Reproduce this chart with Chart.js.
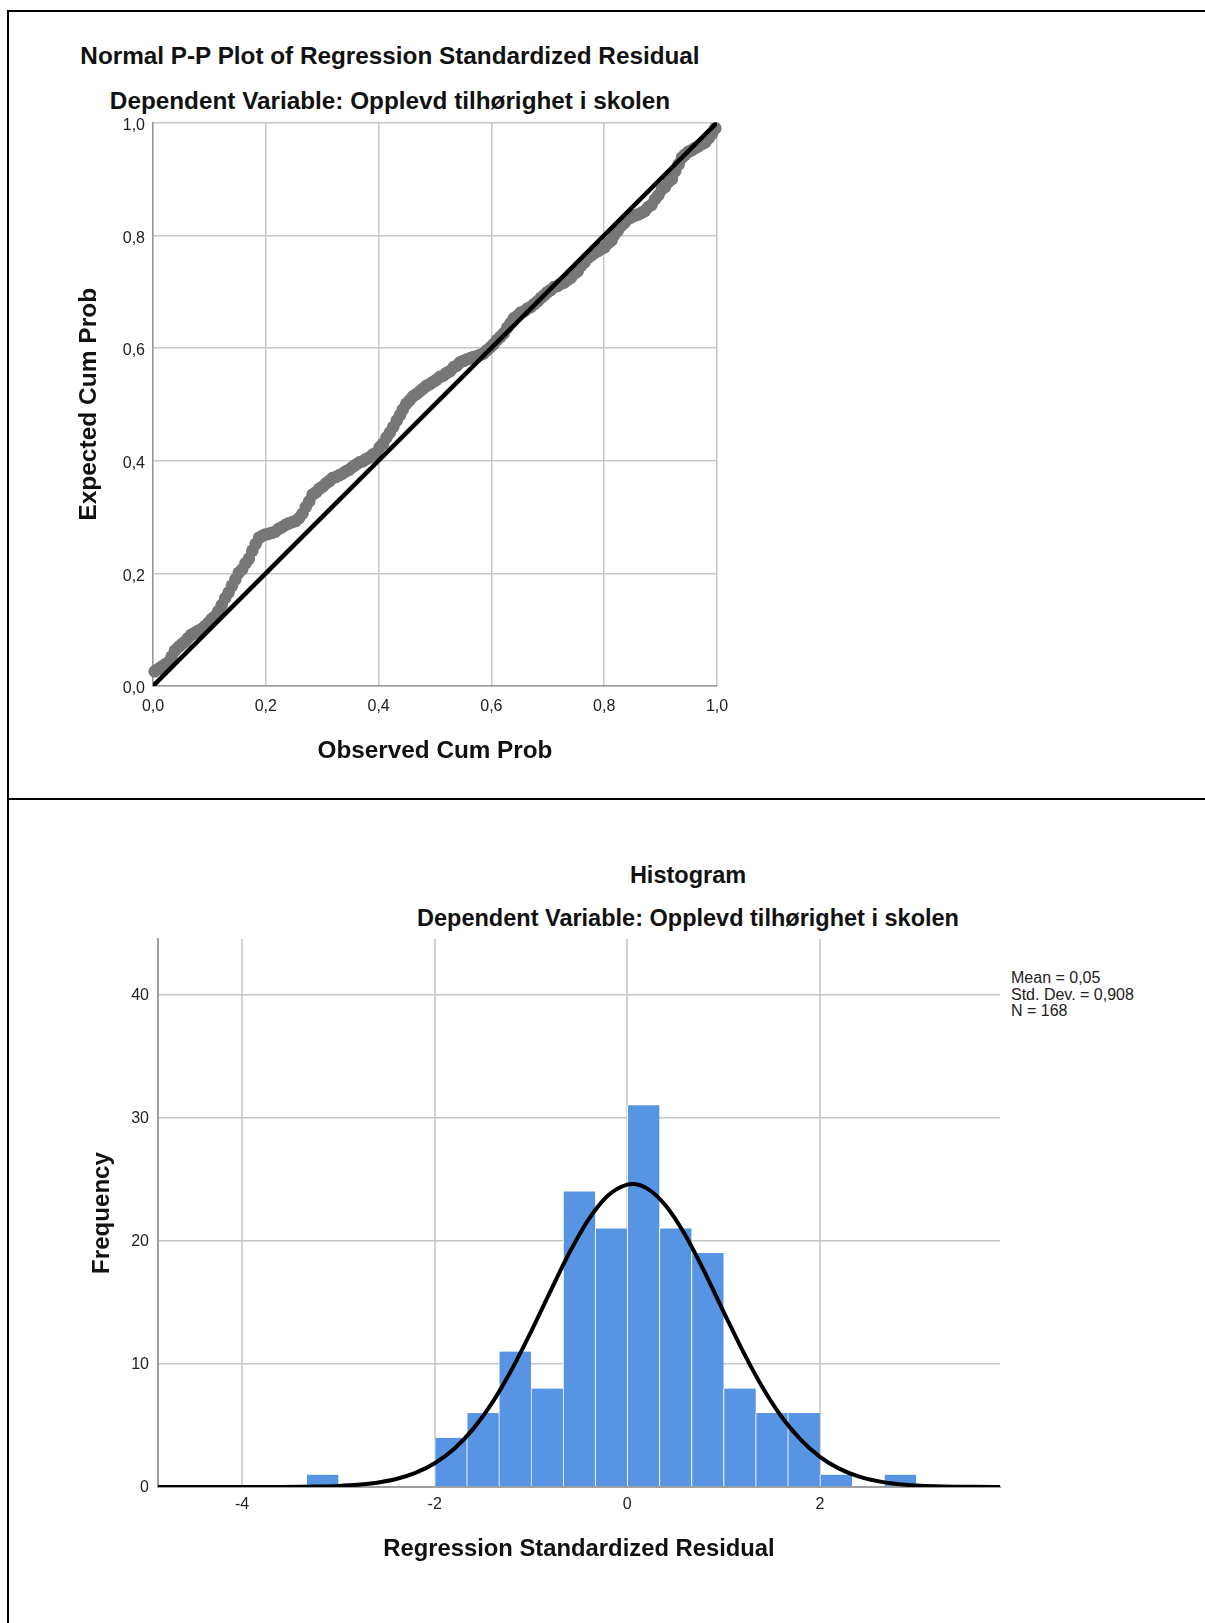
<!DOCTYPE html>
<html>
<head>
<meta charset="utf-8">
<script src="https://cdn.jsdelivr.net/npm/chart.js@4.4.1/dist/chart.umd.min.js"></script>
<style>
  body { margin: 0; width: 1205px; height: 1623px; position: relative; overflow: hidden; background: #fff;
         font-family: "Liberation Sans", Arial, sans-serif; }
  .rule { position: absolute; background: #000; }
  .chart-title { position: absolute; text-align: center; white-space: nowrap; font-weight: bold;
                 font-size: 23.5px; line-height: 28px; color: #111; }
  .pp-title { font-size: 24.3px; }
  .stats { position: absolute; left: 1011px; top: 970px; font-size: 16px; line-height: 16.5px; color: #222; }
  canvas { position: absolute; }
</style>
</head>
<body>
<div class="rule" style="left:7px; top:10px; width:1198px; height:2px;"></div>
<div class="rule" style="left:7px; top:10px; width:2px; height:1613px;"></div>
<div class="rule" style="left:7px; top:798px; width:1198px; height:2px;"></div>

<div class="chart-title pp-title" style="left:0; width:780px; top:42px;">Normal P-P Plot of Regression Standardized Residual</div>
<div class="chart-title pp-title" style="left:0; width:780px; top:87px;">Dependent Variable: Opplevd tilhørighet i skolen</div>
<canvas id="ppChart" width="780" height="685" style="left:0; top:105px; width:780px; height:685px;"></canvas>

<div class="chart-title" style="left:388px; width:600px; top:861px;">Histogram</div>
<div class="chart-title" style="left:388px; width:600px; top:904px;">Dependent Variable: Opplevd tilhørighet i skolen</div>
<div class="stats">Mean = 0,05<br>Std. Dev. = 0,908<br>N = 168</div>
<canvas id="histChart" width="1205" height="823" style="left:0; top:800px; width:1205px; height:823px;"></canvas>

<script type="text/javascript">
// P-P plot: observed vs expected cumulative probability
var ppTicks = [0, 0.2, 0.4, 0.6, 0.8, 1.0];
var ppObserved = [
  0.003, 0.009, 0.015, 0.021, 0.027, 0.033, 0.039, 0.045, 0.051, 0.057, 0.062, 0.068,
  0.074, 0.080, 0.086, 0.092, 0.098, 0.104, 0.110, 0.116, 0.122, 0.128, 0.134, 0.140,
  0.146, 0.152, 0.158, 0.164, 0.170, 0.176, 0.182, 0.188, 0.193, 0.199, 0.205, 0.211,
  0.217, 0.223, 0.229, 0.235, 0.241, 0.247, 0.253, 0.259, 0.265, 0.271, 0.277, 0.283,
  0.289, 0.295, 0.301, 0.307, 0.313, 0.318, 0.324, 0.330, 0.336, 0.342, 0.348, 0.354,
  0.360, 0.366, 0.372, 0.378, 0.384, 0.390, 0.396, 0.402, 0.408, 0.414, 0.420, 0.426,
  0.432, 0.438, 0.443, 0.449, 0.455, 0.461, 0.467, 0.473, 0.479, 0.485, 0.491, 0.497,
  0.503, 0.509, 0.515, 0.521, 0.527, 0.533, 0.539, 0.545, 0.551, 0.557, 0.563, 0.568,
  0.574, 0.580, 0.586, 0.592, 0.598, 0.604, 0.610, 0.616, 0.622, 0.628, 0.634, 0.640,
  0.646, 0.652, 0.658, 0.664, 0.670, 0.676, 0.682, 0.688, 0.693, 0.699, 0.705, 0.711,
  0.717, 0.723, 0.729, 0.735, 0.741, 0.747, 0.753, 0.759, 0.765, 0.771, 0.777, 0.783,
  0.789, 0.795, 0.801, 0.807, 0.813, 0.818, 0.824, 0.830, 0.836, 0.842, 0.848, 0.854,
  0.860, 0.866, 0.872, 0.878, 0.884, 0.890, 0.896, 0.902, 0.908, 0.914, 0.920, 0.926,
  0.932, 0.938, 0.943, 0.949, 0.955, 0.961, 0.967, 0.973, 0.979, 0.985, 0.991, 0.997
];
var ppExpected = [
  0.026, 0.030, 0.034, 0.038, 0.042, 0.052, 0.063, 0.069, 0.074, 0.079, 0.085, 0.091,
  0.094, 0.098, 0.101, 0.106, 0.112, 0.119, 0.124, 0.133, 0.144, 0.156, 0.166, 0.178,
  0.189, 0.201, 0.207, 0.218, 0.226, 0.240, 0.252, 0.263, 0.266, 0.269, 0.270, 0.272,
  0.274, 0.279, 0.282, 0.286, 0.289, 0.291, 0.293, 0.298, 0.306, 0.318, 0.328, 0.340,
  0.344, 0.350, 0.354, 0.360, 0.364, 0.369, 0.371, 0.374, 0.377, 0.381, 0.384, 0.389,
  0.393, 0.397, 0.399, 0.403, 0.406, 0.411, 0.414, 0.424, 0.430, 0.441, 0.450, 0.460,
  0.471, 0.481, 0.491, 0.501, 0.507, 0.514, 0.518, 0.523, 0.528, 0.533, 0.536, 0.540,
  0.544, 0.549, 0.551, 0.556, 0.559, 0.566, 0.569, 0.575, 0.577, 0.580, 0.582, 0.584,
  0.585, 0.588, 0.590, 0.596, 0.601, 0.607, 0.614, 0.620, 0.626, 0.636, 0.644, 0.653,
  0.657, 0.663, 0.665, 0.670, 0.673, 0.678, 0.683, 0.689, 0.693, 0.699, 0.703, 0.708,
  0.710, 0.714, 0.716, 0.721, 0.725, 0.732, 0.736, 0.746, 0.752, 0.760, 0.764, 0.769,
  0.772, 0.776, 0.779, 0.786, 0.791, 0.801, 0.808, 0.817, 0.822, 0.829, 0.832, 0.835,
  0.837, 0.840, 0.843, 0.850, 0.854, 0.864, 0.871, 0.881, 0.886, 0.895, 0.900, 0.914,
  0.926, 0.938, 0.943, 0.948, 0.951, 0.955, 0.958, 0.962, 0.965, 0.972, 0.980, 0.990
];
var refLineX = [0, 1];
var refLineY = [0, 1];

// Histogram: bins of width 1/3, with fitted normal curve
var binMid = [-3.16667, -1.83333, -1.5, -1.16667, -0.83333, -0.5, -0.16667,
              0.16667, 0.5, 0.83333, 1.16667, 1.5, 1.83333, 2.16667, 2.83333];
var binFreq = [1, 4, 6, 11, 8, 24, 21, 31, 21, 19, 8, 6, 6, 1, 1];
var curveX = [-4.873, -4.4, -4.0, -3.6, -3.4, -3.2, -3.0, -2.8, -2.6, -2.4, -2.2, -2.0, -1.8, -1.6,
              -1.4, -1.2, -1.0, -0.8, -0.6, -0.4, -0.2, 0.0, 0.05, 0.2, 0.4, 0.6, 0.8, 1.0, 1.2,
              1.4, 1.6, 1.8, 2.0, 2.2, 2.4, 2.6, 2.8, 3.0, 3.2, 3.4, 3.6, 3.87];
var curveY = [0.0, 0.0, 0.001, 0.008, 0.018, 0.041, 0.087, 0.179, 0.348, 0.646, 1.142, 1.923, 3.087, 4.719,
              6.873, 9.537, 12.605, 15.87, 19.04, 21.76, 23.68, 24.56, 24.60, 24.27, 22.84, 20.48, 17.49, 14.23, 11.03,
              8.145, 5.729, 3.840, 2.452, 1.491, 0.864, 0.477, 0.251, 0.126, 0.060, 0.027, 0.012, 0.003];
var histXTicks = [-4, -2, 0, 2];
var histYTicks = [0, 10, 20, 30, 40];

var fontFamily = "'Liberation Sans', Arial, sans-serif";
Chart.defaults.font.family = fontFamily;

function commaLabel(value) { return value.toFixed(1).replace('.', ','); }
function fixTicks(values) { return function (scale) { scale.ticks = values.map(function (v) { return { value: v }; }); }; }
function fixWidth(w) { return function (scale) { scale.width = w; }; }
function fixHeight(h) { return function (scale) { scale.height = h; }; }
function points(xs, ys) { return xs.map(function (x, i) { return { x: x, y: ys[i] }; }); }

function titleFont(size) { return { family: fontFamily, size: size, weight: 'bold' }; }

new Chart("ppChart", {
  type: "scatter",
  data: {
    datasets: [
      {
        type: "line",
        data: points(refLineX, refLineY),
        borderColor: "#000",
        borderWidth: 4.5,
        pointRadius: 0,
        order: 0
      },
      {
        data: points(ppObserved, ppExpected),
        backgroundColor: "#777777",
        borderWidth: 0,
        pointRadius: 6.3,
        clip: false,
        order: 1
      }
    ]
  },
  options: {
    responsive: false,
    animation: false,
    // top edge of the plot comes from the y scale's own label padding (half label + 8)
    layout: { padding: { left: 0, top: 0, right: 63, bottom: 0 } },
    plugins: { legend: { display: false }, tooltip: { enabled: false } },
    scales: {
      x: {
        type: "linear", min: 0, max: 1,
        afterBuildTicks: fixTicks(ppTicks),
        afterFit: fixHeight(104),
        ticks: { callback: commaLabel, font: { size: 16 }, color: "#222", padding: 11 },
        grid: { color: "#c8c8c8", lineWidth: 1.5, drawTicks: false },
        border: { color: "#9a9a9a", width: 1.5 },
        title: { display: true, text: "Observed Cum Prob", font: titleFont(24.3), color: "#111",
                 padding: { top: 0, bottom: 24.4 } }
      },
      y: {
        type: "linear", min: 0, max: 1,
        afterBuildTicks: fixTicks(ppTicks),
        afterFit: fixWidth(153),
        ticks: { callback: commaLabel, font: { size: 16 }, color: "#222", padding: 8, labelOffset: 3 },
        grid: { color: "#c8c8c8", lineWidth: 1.5, drawTicks: false },
        border: { color: "#9a9a9a", width: 1.5 },
        title: { display: true, text: "Expected Cum Prob", font: titleFont(24.5), color: "#111",
                 padding: { top: 74.3, bottom: 0 } }
      }
    }
  }
});

new Chart("histChart", {
  type: "bar",
  data: {
    datasets: [
      {
        type: "line",
        data: points(curveX, curveY),
        borderColor: "#000",
        borderWidth: 4,
        pointRadius: 0,
        cubicInterpolationMode: "monotone",
        order: 0
      },
      {
        type: "bar",
        data: points(binMid, binFreq),
        backgroundColor: "#5795e4",
        borderColor: "#ffffff",
        borderWidth: { left: 1, right: 0, top: 0, bottom: 0 },
        barPercentage: 1,
        categoryPercentage: 1,
        order: 1
      }
    ]
  },
  options: {
    responsive: false,
    animation: false,
    layout: { padding: { left: 0, top: 139, right: 205, bottom: 0 } },
    plugins: { legend: { display: false }, tooltip: { enabled: false } },
    scales: {
      x: {
        type: "linear", min: -4.873, max: 3.87, offset: false,
        afterBuildTicks: fixTicks(histXTicks),
        afterFit: fixHeight(136),
        ticks: { callback: function (v) { return String(v); }, font: { size: 16 }, color: "#222", padding: 8 },
        grid: { color: "#d2d2d2", lineWidth: 2, drawTicks: false, offset: false },
        border: { color: "#a0a0a0", width: 2 },
        title: { display: true, text: "Regression Standardized Residual", font: titleFont(23.8), color: "#111",
                 padding: { top: 0, bottom: 59.7 } }
      },
      y: {
        type: "linear", min: 0, max: 44.5,
        afterBuildTicks: fixTicks(histYTicks),
        afterFit: fixWidth(158),
        ticks: { font: { size: 16 }, color: "#222", padding: 9, labelOffset: 1 },
        grid: { color: "#c4c4c4", lineWidth: 1.5, drawTicks: false },
        border: { color: "#a0a0a0", width: 2 },
        title: { display: true, text: "Frequency", font: titleFont(24.1), color: "#111",
                 padding: { top: 87.5, bottom: 0 } }
      }
    }
  }
});
</script>
</body>
</html>
